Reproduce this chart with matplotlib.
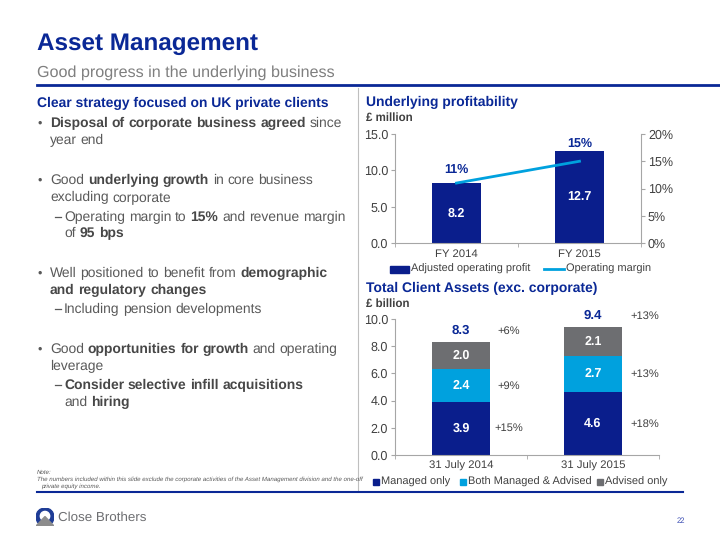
import matplotlib
matplotlib.use("Agg")
import matplotlib.pyplot as plt
from matplotlib.patches import Rectangle, Circle, Polygon
from matplotlib.lines import Line2D

plt.rcParams['font.family'] = ['Liberation Sans', 'DejaVu Sans']
plt.rcParams['text.hinting'] = 'no_hinting'

W, H = 720, 540

NAVY = '#0A1E8C'
TITLE_BLUE = '#0A2896'
LIGHT_BLUE = '#00A1DE'
GREY_BAR = '#6D6E71'
TEXT_GREY = '#595959'
BOLD_GREY = '#474747'
AXIS_GREY = '#A6A6A6'
TICK_TXT = '#404040'

# Underlying profitability data
years = ['FY 2014', 'FY 2015']
profit = [8.2, 12.7]          # GBP million
margin = [11, 15]             # %

# Total client assets data
dates = ['31 July 2014', '31 July 2015']
managed = [3.9, 4.6]
both = [2.4, 2.7]
advised = [2.0, 2.1]
totals = [8.3, 9.4]
growth_managed = ['+15%', '+18%']
growth_both = ['+9%', '+13%']
growth_total = ['+6%', '+13%']

fig = plt.figure(figsize=(W / 100, H / 100), dpi=100)
renderer = fig.canvas.get_renderer()


def fx(x):
    return x / W


def fy(y):
    return 1 - y / H


def ftext(x, y, s, **kw):
    kw.setdefault('va', 'center')
    return fig.text(fx(x), fy(y), s, transform=fig.transFigure, **kw)


def hline(x0, x1, y, color, lw):
    fig.add_artist(Line2D([fx(x0), fx(x1)], [fy(y), fy(y)], color=color, lw=lw,
                          transform=fig.transFigure))


def space_width(size, weight):
    a = fig.text(0, 0, 'x x', fontsize=size, weight=weight)
    b = fig.text(0, 0, 'xx', fontsize=size, weight=weight)
    w = a.get_window_extent(renderer).width - b.get_window_extent(renderer).width
    a.remove()
    b.remove()
    return w


# draws a line made of plain / bold runs, word by word, on a common baseline
def runs(x, y, parts, size=10.0):
    base = y + 5
    first = True
    for txt, bold in parts:
        weight = 'bold' if bold else 'normal'
        color = BOLD_GREY if bold else TEXT_GREY
        sw = space_width(size, weight)
        for word in txt.split(' '):
            if word == '':
                continue
            if not first:
                x += sw
            t = ftext(x, base, word, fontsize=size, weight=weight, color=color, va='baseline')
            x += t.get_window_extent(renderer).width
            first = False


# ---- header ----
ftext(37, 44, 'Asset Management', fontsize=17.5, weight='bold', color=TITLE_BLUE)
ftext(37, 73, 'Good progress in the underlying business', fontsize=11.6, color='#7F7F7F')
hline(37, 720, 85, TITLE_BLUE, 2)

# divider
fig.add_artist(Line2D([fx(358), fx(358)], [fy(88), fy(490)], color='#BFBFBF', lw=0.8,
                      transform=fig.transFigure))

# ---- left column ----
ftext(37, 103, 'Clear strategy focused on UK private clients', fontsize=10, weight='bold',
      color=TITLE_BLUE)

bullets = [
    (122, 0, [('Disposal of corporate business agreed', True), (' since', False)]),
    (139, 1, [('year end', False)]),
    (179, 0, [('Good ', False), ('underlying growth', True), (' in core business', False)]),
    (196, 1, [('excluding corporate', False)]),
    (216, 2, [('Operating margin to ', False), ('15%', True), (' and revenue margin', False)]),
    (232, 3, [('of ', False), ('95 bps', True)]),
    (272, 0, [('Well positioned to benefit from ', False), ('demographic', True)]),
    (289, 1, [('and regulatory changes', True)]),
    (308, 2, [('Including pension developments', False)]),
    (348, 0, [('Good ', False), ('opportunities for growth', True), (' and operating', False)]),
    (365, 1, [('leverage', False)]),
    (384, 2, [('Consider selective infill acquisitions', True)]),
    (401, 3, [('and ', False), ('hiring', True)]),
]
for y, kind, parts in bullets:
    if kind == 0:
        ftext(37, y + 5, '\u2022', fontsize=9, color=TEXT_GREY, va='baseline')
    if kind == 2:
        # sub-bullet dash, drawn at mid x-height
        hline(55, 60.5, y + 1.2, TEXT_GREY, 0.9)
    x0 = 50 if kind in (0, 1) else 64
    runs(x0, y, parts)

# note
ftext(37, 472, 'Note:', fontsize=4.4, style='italic', color=TEXT_GREY)
ftext(37, 479, 'The numbers included within this slide exclude the corporate activities of '
      'the Asset Management division and the one-off', fontsize=4.4, style='italic',
      color=TEXT_GREY)
ftext(41, 486, 'private equity income.', fontsize=4.4, style='italic', color=TEXT_GREY)
hline(37, 683, 492, TITLE_BLUE, 1.5)

# ---- footer ----
logo = fig.add_axes([fx(36), fy(526), 18 / W, 18 / H])
logo.set_xlim(-1, 1)
logo.set_ylim(-1, 1)
logo.set_aspect('equal')
logo.axis('off')
logo.add_patch(Circle((0, 0), 1, color='#1E3C96'))
logo.add_patch(Circle((0, 0.1), 0.52, color='white'))
logo.add_patch(Polygon([(-1, -1), (0, 0.05), (1, -1)], closed=True, color='#8C8C8C'))
ftext(58, 518, 'Close Brothers', fontsize=9.6, color='#6D6E71')
ftext(681, 521, '22', fontsize=5.5, color='#3F51B5', ha='center')


def style_axis(ax):
    for side in ['top', 'right']:
        ax.spines[side].set_visible(False)
    for side in ['left', 'bottom']:
        ax.spines[side].set_color(AXIS_GREY)
        ax.spines[side].set_linewidth(0.8)
    ax.tick_params(axis='y', length=3, color=AXIS_GREY, labelsize=9, labelcolor=TICK_TXT, pad=2)
    ax.tick_params(axis='x', which='major', length=0, labelsize=8.2, labelcolor=TICK_TXT, pad=4)
    ax.tick_params(axis='x', which='minor', length=3, color=AXIS_GREY)


# ---- chart 1: underlying profitability ----
ftext(366, 102, 'Underlying profitability', fontsize=10, weight='bold', color=TITLE_BLUE)
ftext(366, 118, '\u00a3 million', fontsize=8.3, weight='bold', color=TICK_TXT)

ax1 = fig.add_axes([fx(395), fy(243), 246 / W, 109 / H])
xs = list(range(len(years)))
ax1.bar(xs, profit, width=0.4, color=NAVY)
ax1.set_xlim(-0.5, 1.5)
ax1.set_ylim(0, 15)
ax1.set_yticks([0, 5, 10, 15])
ax1.set_yticklabels([f'{v:.1f}' for v in [0, 5, 10, 15]])
ax1.set_xticks(xs)
ax1.set_xticklabels(years)
ax1.set_xticks([-0.5, 0.5, 1.5], minor=True)
style_axis(ax1)
for i, v in enumerate(profit):
    ax1.text(i, v / 2, f'{v:.1f}', ha='center', va='center', color='white',
             fontsize=9, weight='bold')

ax2 = ax1.twinx()
ax2.plot(xs, margin, color=LIGHT_BLUE, lw=2)
ax2.set_ylim(0, 20)
ax2.set_yticks([0, 5, 10, 15, 20])
ax2.set_yticklabels([f'{v}%' for v in [0, 5, 10, 15, 20]])
for side in ['top', 'left', 'bottom']:
    ax2.spines[side].set_visible(False)
ax2.spines['right'].set_color(AXIS_GREY)
ax2.spines['right'].set_linewidth(0.8)
ax2.tick_params(axis='y', length=3, color=AXIS_GREY, labelsize=9, labelcolor=TICK_TXT, pad=2)
label_lift = [10, 13]   # points above the line end
for i, m in enumerate(margin):
    ax2.annotate(f'{m}%', (i, m), xytext=(0, label_lift[i]), textcoords='offset points',
                 ha='center', va='center', color=TITLE_BLUE, fontsize=9, weight='bold')

# legend 1
fig.add_artist(Rectangle((fx(390), fy(272.5)), 19 / W, 7 / H, color=NAVY,
                         transform=fig.transFigure))
ftext(411, 269, 'Adjusted operating profit', fontsize=7.9, color=TICK_TXT)
hline(544, 564, 269, LIGHT_BLUE, 2)
ftext(566, 269, 'Operating margin', fontsize=7.9, color=TICK_TXT)

# ---- chart 2: total client assets ----
ftext(366, 288, 'Total Client Assets (exc. corporate)', fontsize=10, weight='bold',
      color=TITLE_BLUE)
ftext(366, 304, '\u00a3 billion', fontsize=8.3, weight='bold', color=TICK_TXT)

ax3 = fig.add_axes([fx(395), fy(455), 264 / W, 136 / H])
xs2 = list(range(len(dates)))
bw = 0.44
ax3.bar(xs2, managed, width=bw, color=NAVY)
ax3.bar(xs2, both, width=bw, bottom=managed, color=LIGHT_BLUE)
base2 = [m + b for m, b in zip(managed, both)]
ax3.bar(xs2, advised, width=bw, bottom=base2, color=GREY_BAR)
ax3.set_xlim(-0.5, 1.5)
ax3.set_ylim(0, 10)
ax3.set_yticks([0, 2, 4, 6, 8, 10])
ax3.set_yticklabels([f'{v:.1f}' for v in [0, 2, 4, 6, 8, 10]])
ax3.set_xticks(xs2)
ax3.set_xticklabels(dates)
ax3.set_xticks([-0.5, 0.5, 1.5], minor=True)
style_axis(ax3)

growth_x = [0.36, 1.39]
for i in xs2:
    mids = [managed[i] / 2, managed[i] + both[i] / 2, base2[i] + advised[i] / 2]
    for val, mid in zip([managed[i], both[i], advised[i]], mids):
        ax3.text(i, mid, f'{val:.1f}', ha='center', va='center', color='white',
                 fontsize=9, weight='bold')
    top = totals[i] + 0.85
    ax3.text(i, top, f'{totals[i]:.1f}', ha='center', va='center', color=TITLE_BLUE,
             fontsize=9.5, weight='bold')
    ax3.text(growth_x[i], mids[0], growth_managed[i], ha='center', va='center',
             color=TICK_TXT, fontsize=8)
    ax3.text(growth_x[i], mids[1], growth_both[i], ha='center', va='center',
             color=TICK_TXT, fontsize=8)
    ax3.text(growth_x[i], top, growth_total[i], ha='center', va='center',
             color=TICK_TXT, fontsize=8)

# legend 2
for x0, col, lab in [(373, NAVY, 'Managed only'), (460, LIGHT_BLUE, 'Both Managed & Advised'),
                     (597, GREY_BAR, 'Advised only')]:
    fig.add_artist(Rectangle((fx(x0), fy(485)), 6 / W, 6 / H, color=col,
                             transform=fig.transFigure))
    ftext(x0 + 8, 482, lab, fontsize=7.9, color=TICK_TXT)

fig.savefig('out.png', dpi=100)
